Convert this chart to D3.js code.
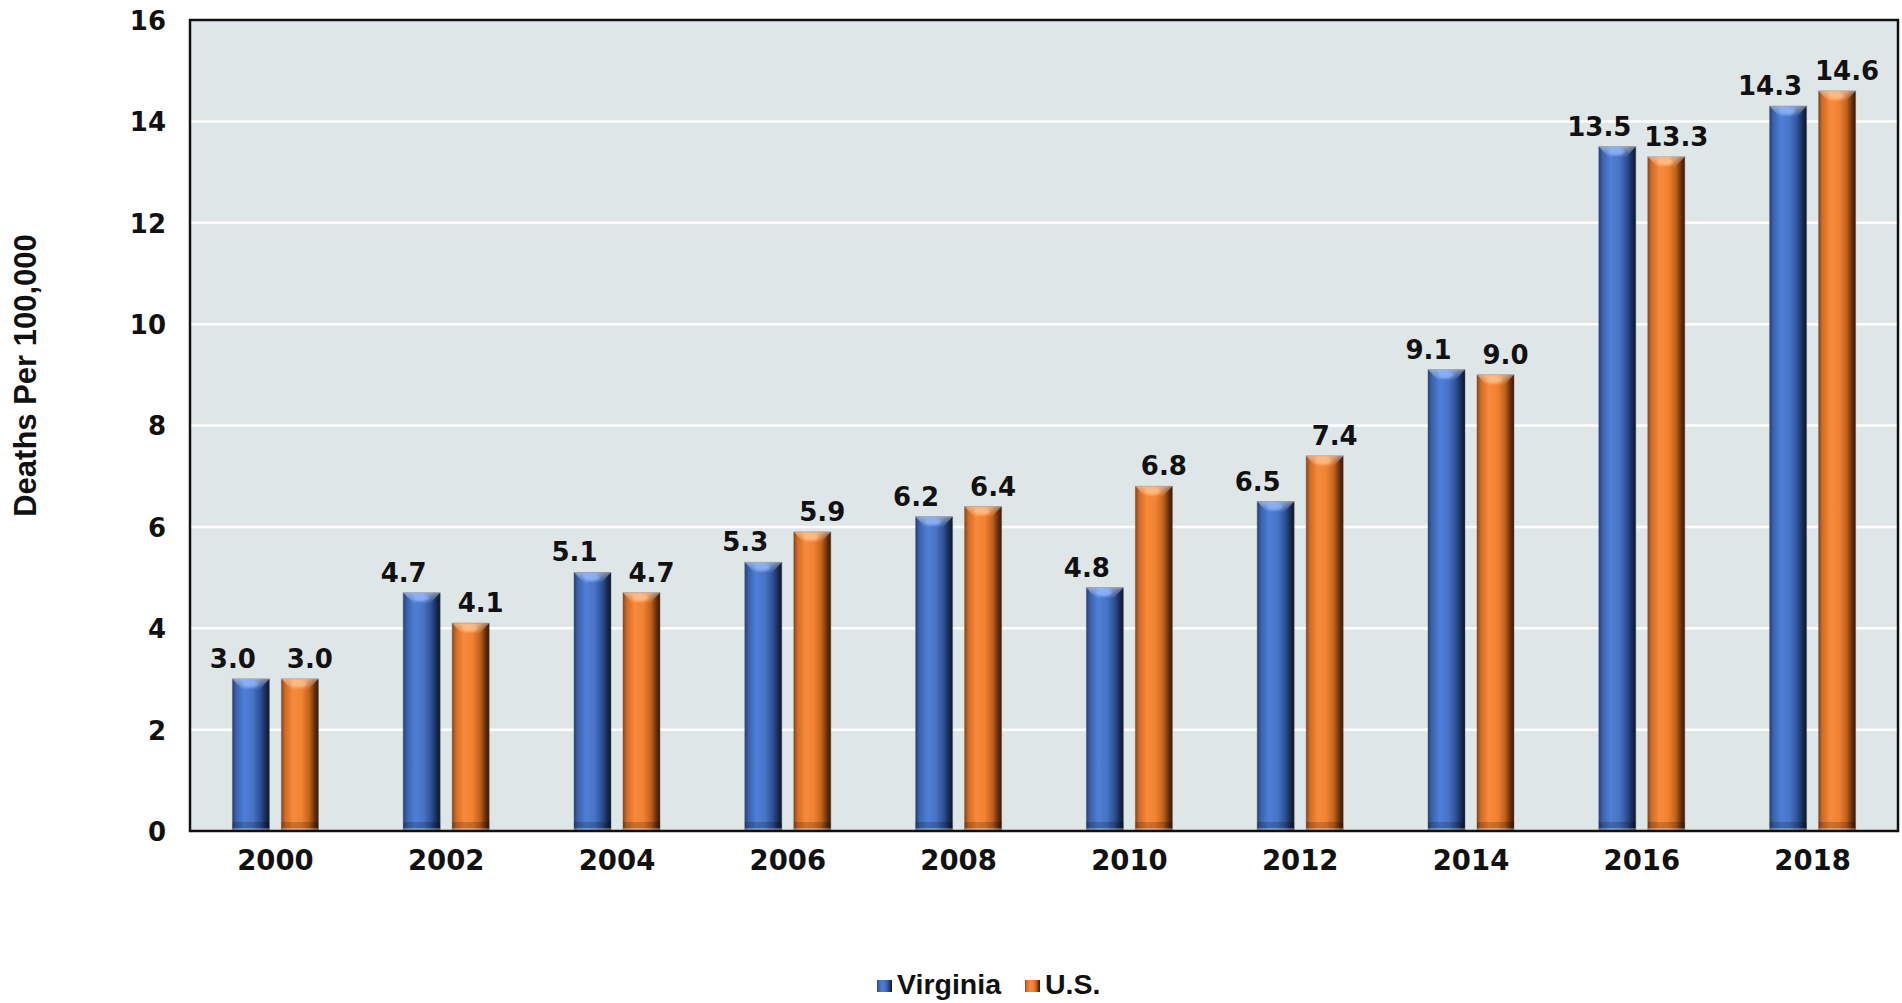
<!DOCTYPE html>
<html>
<head>
<meta charset="utf-8">
<script src="https://cdn.jsdelivr.net/npm/d3@7"></script>
<style>
  html, body { margin: 0; padding: 0; background: #ffffff; }
  svg { display: block; }
</style>
</head>
<body>
<svg id="chart" width="1902" height="1003"></svg>
<script>
// Overdose death rates, deaths per 100,000 population
const years = ["2000", "2002", "2004", "2006", "2008", "2010", "2012", "2014", "2016", "2018"];
const virginia = [3.0, 4.7, 5.1, 5.3, 6.2, 4.8, 6.5, 9.1, 13.5, 14.3];
const us = [3.0, 4.1, 4.7, 5.9, 6.4, 6.8, 7.4, 9.0, 13.3, 14.6];
const seriesNames = ["Virginia", "U.S."];
const yTicks = [0, 2, 4, 6, 8, 10, 12, 14, 16];

const svg = d3.select("#chart");
const plot = { left: 190, right: 1898, top: 20, bottom: 831 };
const numFont = "'DejaVu Sans', sans-serif";

const x = d3.scaleBand().domain(years).range([plot.left, plot.right]).padding(0);
const y = d3.scaleLinear().domain([0, 16]).range([plot.bottom, plot.top]);
const barW = 37, barGap = 12;

// gradients giving each bar a rounded, lit look
const defs = svg.append("defs");
const palettes = {
  Virginia: [["0%", "#243f76"], ["10%", "#3a62ad"], ["32%", "#4e7fd6"], ["55%", "#4874c6"], ["75%", "#2f5197"], ["90%", "#182b55"], ["100%", "#0c162c"]],
  "U.S.": [["0%", "#8e4418"], ["10%", "#d06a24"], ["32%", "#f88a3b"], ["55%", "#f08232"], ["75%", "#c2621d"], ["90%", "#6a300c"], ["100%", "#361806"]]
};
Object.entries(palettes).forEach(([name, stops], i) => {
  const g = defs.append("linearGradient").attr("id", "grad" + i)
    .attr("x1", "0%").attr("x2", "100%").attr("y1", "0%").attr("y2", "0%");
  stops.forEach(([o, c]) => g.append("stop").attr("offset", o).attr("stop-color", c));
});
const capGrad = defs.append("linearGradient").attr("id", "capGrad")
  .attr("x1", "0%").attr("x2", "0%").attr("y1", "0%").attr("y2", "100%");
capGrad.append("stop").attr("offset", "0%").attr("stop-color", "#ffffff").attr("stop-opacity", 0.45);
capGrad.append("stop").attr("offset", "100%").attr("stop-color", "#ffffff").attr("stop-opacity", 0);
defs.append("filter").attr("id", "soft").append("feGaussianBlur").attr("stdDeviation", 1.2);

// plot background
svg.append("rect")
  .attr("x", plot.left).attr("y", plot.top)
  .attr("width", plot.right - plot.left).attr("height", plot.bottom - plot.top)
  .attr("fill", "#dfe6e8");

// horizontal gridlines
svg.append("g").selectAll("line")
  .data(yTicks.filter(t => t > 0 && t < 16))
  .join("line")
  .attr("x1", plot.left).attr("x2", plot.right)
  .attr("y1", d => y(d)).attr("y2", d => y(d))
  .attr("stroke", "#ffffff").attr("stroke-width", 2.5);

// y axis tick labels
const yAxis = d3.axisLeft(y).tickValues(yTicks).tickSize(0).tickPadding(24).tickFormat(d3.format("d"));
svg.append("g").attr("transform", `translate(${plot.left},0)`).call(yAxis)
  .call(g => g.select(".domain").remove())
  .selectAll("text")
  .attr("font-family", numFont).attr("font-weight", "bold")
  .attr("font-size", 26).attr("fill", "#111").attr("dy", "0.36em");

// x axis tick labels
const xAxis = d3.axisBottom(x).tickSize(0).tickPadding(19);
svg.append("g").attr("transform", `translate(0,${plot.bottom})`).call(xAxis)
  .call(g => g.select(".domain").remove())
  .selectAll("text")
  .attr("font-family", numFont).attr("font-weight", "bold")
  .attr("font-size", 27.5).attr("fill", "#111").attr("dy", "0.71em");

// bars
const rows = years.map((yr, i) => ({ year: yr, values: [virginia[i], us[i]] }));
const barX = (yr, s) => x(yr) + x.bandwidth() / 2 + (s === 0 ? -(barGap / 2 + barW) : barGap / 2);

const groups = svg.append("g").selectAll("g")
  .data(rows).join("g");

groups.each(function (row) {
  const g = d3.select(this);
  row.values.forEach((v, s) => {
    const x0 = barX(row.year, s), top = y(v), h = y(0) - y(v);
    const b = g.append("g");
    b.append("rect")
      .attr("x", x0).attr("y", top).attr("width", barW).attr("height", h)
      .attr("fill", `url(#grad${s})`)
      .attr("stroke", "#5a5a5a").attr("stroke-opacity", 0.45).attr("stroke-width", 1);
    // bevelled top
    b.append("path")
      .attr("d", `M${x0},${top} H${x0 + barW} L${x0 + barW * 0.72},${top + 11} H${x0 + barW * 0.28} Z`)
      .attr("fill", "url(#capGrad)");
    b.append("ellipse")
      .attr("cx", x0 + barW * 0.47).attr("cy", top + 5).attr("rx", barW * 0.22).attr("ry", 3.5)
      .attr("fill", s === 0 ? "#8fb4ff" : "#ffc08a").attr("opacity", 0.75)
      .attr("filter", "url(#soft)");
    // bevelled base
    b.append("rect")
      .attr("x", x0).attr("y", y(0) - 9).attr("width", barW).attr("height", 7)
      .attr("fill", "#000").attr("opacity", 0.18);
    b.append("rect")
      .attr("x", x0).attr("y", y(0) - 3).attr("width", barW).attr("height", 2)
      .attr("fill", "#fff").attr("opacity", 0.3);
    // value label
    b.append("text")
      .attr("x", x0 + barW / 2 + (s === 0 ? -18 : 10))
      .attr("y", top - 11)
      .attr("text-anchor", "middle")
      .attr("font-family", numFont).attr("font-weight", "bold")
      .attr("font-size", 26).attr("fill", "#111")
      .text(v.toFixed(1));
  });
});

// plot frame
svg.append("rect")
  .attr("x", plot.left).attr("y", plot.top)
  .attr("width", plot.right - plot.left).attr("height", plot.bottom - plot.top)
  .attr("fill", "none").attr("stroke", "#111").attr("stroke-width", 2.5);

// y axis title
svg.append("text")
  .attr("transform", `translate(36,${(plot.top + plot.bottom) / 2 - 50}) rotate(-90)`)
  .attr("text-anchor", "middle")
  .attr("font-family", "'Liberation Sans', Arial, sans-serif").attr("font-weight", "bold")
  .attr("font-size", 31).attr("fill", "#111")
  .text("Deaths Per 100,000");

// legend
const legend = svg.append("g").attr("transform", "translate(877,994)");
const legendX = [0, 148];
seriesNames.forEach((name, i) => {
  const item = legend.append("g").attr("transform", `translate(${legendX[i]},0)`);
  item.append("rect").attr("x", 0).attr("y", -14).attr("width", 15).attr("height", 12)
    .attr("fill", `url(#grad${i})`);
  item.append("text").attr("x", 20).attr("y", 0)
    .attr("font-family", "'Liberation Sans', Arial, sans-serif").attr("font-weight", "bold")
    .attr("font-size", 28.5).attr("fill", "#111")
    .text(name);
});
</script>
</body>
</html>
